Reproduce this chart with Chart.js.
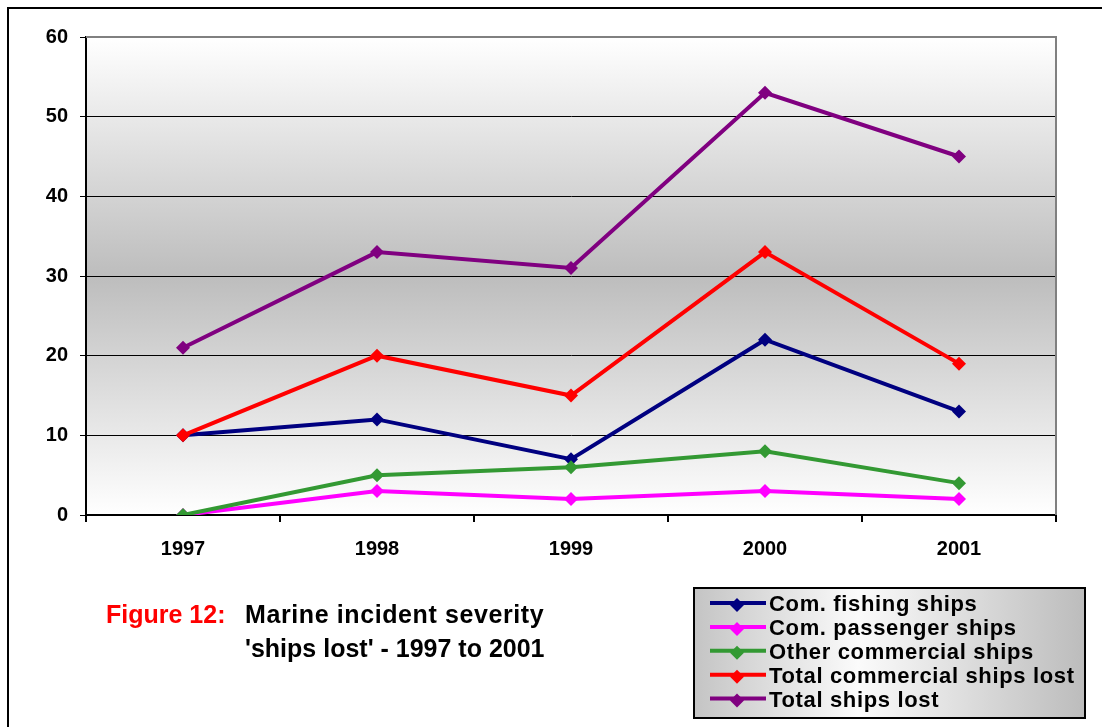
<!DOCTYPE html>
<html>
<head>
<meta charset="utf-8">
<script src="https://cdn.jsdelivr.net/npm/chart.js@4"></script>
<style>
  html, body { margin: 0; padding: 0; background: #fff; }
  #wrap { width: 1102px; height: 727px; }
</style>
</head>
<body>
<div id="wrap"><canvas id="chart" width="1102" height="727"></canvas></div>
<script>
// ========== Data ==========

const years = ['1997', '1998', '1999', '2000', '2001'];
const fishingShips = [10, 12, 7, 22, 13];
const passengerShips = [0, 3, 2, 3, 2];
const otherCommercial = [0, 5, 6, 8, 4];
const totalCommercial = [10, 20, 15, 33, 19];
const totalLost = [21, 33, 31, 53, 45];

const seriesNames = ['Com. fishing ships', 'Com. passenger ships', 'Other commercial ships', 'Total commercial ships lost', 'Total ships lost'];
const seriesColors = ['#000080', '#ff00ff', '#339933', '#ff0000', '#800080'];
const yTicks = [0, 10, 20, 30, 40, 50, 60];

const FONT = "'Liberation Sans', Arial, sans-serif";

// ========== Plugins ==========

// plot background gradient + outer frame
const backdrop = {
  id: 'backdrop',
  beforeDraw(chart) {
    const { ctx, chartArea: a } = chart;
    ctx.save();
    ctx.fillStyle = '#fff';
    ctx.fillRect(0, 0, chart.width, chart.height);
    const g = ctx.createLinearGradient(0, a.top, 0, a.bottom);
    g.addColorStop(0, '#ffffff');
    g.addColorStop(0.5, '#bdbdbd');
    g.addColorStop(1, '#ffffff');
    ctx.fillStyle = g;
    ctx.fillRect(a.left, a.top, a.right - a.left, a.bottom - a.top);
    ctx.restore();
  },
  afterDraw(chart) {
    const { ctx, chartArea: a } = chart;
    ctx.save();
    // grey plot border top/right
    ctx.strokeStyle = '#808080';
    ctx.lineWidth = 2;
    ctx.beginPath();
    ctx.moveTo(a.left, a.top);
    ctx.lineTo(a.right, a.top);
    ctx.lineTo(a.right, a.bottom);
    ctx.stroke();
    // outer frame
    ctx.strokeStyle = '#000';
    ctx.lineWidth = 2;
    ctx.beginPath();
    ctx.moveTo(8, chart.height + 5);
    ctx.lineTo(8, 8);
    ctx.lineTo(chart.width + 5, 8);
    ctx.stroke();
    ctx.restore();
  }
};

// caption text bottom left
const caption = {
  id: 'caption',
  afterDraw(chart) {
    const ctx = chart.ctx;
    ctx.save();
    ctx.font = 'bold 25px ' + FONT;
    ctx.textBaseline = 'alphabetic';
    ctx.fillStyle = '#ff0000';
    ctx.fillText('Figure 12:', 106, 623);
    ctx.fillStyle = '#000';
    ctx.fillText("'ships lost' - 1997 to 2001", 245, 657);
    ctx.letterSpacing = '0.6px';
    ctx.fillText('Marine incident severity', 245, 623);
    ctx.restore();
  }
};

// boxed legend bottom right
const boxLegend = {
  id: 'boxLegend',
  afterDraw(chart) {
    const ctx = chart.ctx;
    const x = 694, y = 588, w = 391, h = 130;
    ctx.save();
    const g = ctx.createLinearGradient(x, 0, x + w, 0);
    g.addColorStop(0, '#c4c4c4');
    g.addColorStop(0.42, '#fbfbfb');
    g.addColorStop(1, '#bcbcbc');
    ctx.fillStyle = g;
    ctx.fillRect(x, y, w, h);
    ctx.strokeStyle = '#000';
    ctx.lineWidth = 2;
    ctx.strokeRect(x, y, w, h);

    ctx.font = 'bold 22px ' + FONT;
    ctx.letterSpacing = '0.65px';
    ctx.textBaseline = 'middle';
    chart.data.datasets.forEach((ds, i) => {
      const cy = 603 + i * 23.9;
      ctx.strokeStyle = ds.borderColor;
      ctx.lineWidth = 4;
      ctx.beginPath();
      ctx.moveTo(710, cy);
      ctx.lineTo(766, cy);
      ctx.stroke();
      // diamond marker
      const mx = 737, my = cy + 2, r = 7;
      ctx.fillStyle = ds.borderColor;
      ctx.beginPath();
      ctx.moveTo(mx, my - r);
      ctx.lineTo(mx + r, my);
      ctx.lineTo(mx, my + r);
      ctx.lineTo(mx - r, my);
      ctx.closePath();
      ctx.fill();
      ctx.fillStyle = '#000';
      ctx.fillText(ds.label, 769, cy + 2);
    });
    ctx.restore();
  }
};

// ========== Chart ==========

const seriesData = [fishingShips, passengerShips, otherCommercial, totalCommercial, totalLost];

const datasets = seriesData.map((values, i) => ({
  label: seriesNames[i],
  data: values,
  borderColor: seriesColors[i],
  backgroundColor: seriesColors[i],
  borderWidth: 4,
  pointStyle: 'rectRot',
  pointRadius: 7,
  pointBorderWidth: 0,
  tension: 0,
  order: seriesData.length - i,   // later series on top, like Excel
}));

const tickFont = { family: FONT, size: 20, weight: 'bold' };

new Chart(document.getElementById('chart').getContext('2d'), {
  type: 'line',
  data: { labels: years, datasets },
  options: {
    responsive: false,
    animation: false,
    layout: { padding: { left: 0, top: 37, right: 46, bottom: 152 } },
    scales: {
      x: {
        offset: true,
        grid: { offset: true, drawOnChartArea: false, drawTicks: true, tickLength: 7, color: '#000', lineWidth: 2 },
        border: { color: '#000', width: 2 },
        ticks: { font: tickFont, color: '#000', padding: 15, maxRotation: 0 },
        afterFit: s => { s.height = 60; },
      },
      y: {
        min: 0,
        max: 60,
        afterBuildTicks: s => { s.ticks = yTicks.map(v => ({ value: v })); },
        grid: { color: '#000', lineWidth: 1, tickLength: 6 },
        border: { color: '#000', width: 2 },
        ticks: { font: tickFont, color: '#000', padding: 12 },
        afterFit: s => { s.width = 86; },
      },
    },
    plugins: {
      legend: { display: false },
      tooltip: { enabled: false },
    },
  },
  plugins: [backdrop, caption, boxLegend],
});
</script>
</body>
</html>
